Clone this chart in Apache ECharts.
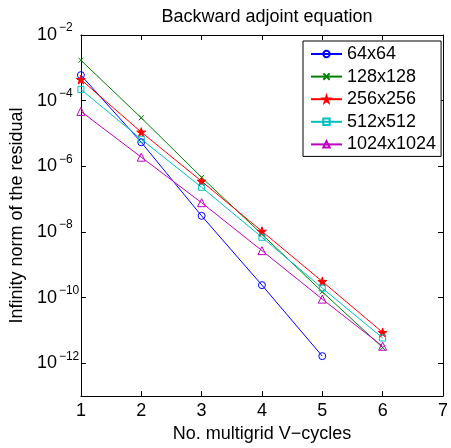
<!DOCTYPE html>
<html><head><meta charset="utf-8">
<script src="https://cdn.jsdelivr.net/npm/echarts@6/dist/echarts.min.js"></script>
<style>html,body{margin:0;padding:0;background:#fff}#c{width:451px;height:448px}</style>
</head><body><div id="c"></div>
<script>
const cycles = [1, 2, 3, 4, 5, 6];
const s64 = [6.0e-4, 5.4e-6, 3.1e-8, 2.4e-10, 1.65e-12, null];
const s128 = [1.7e-3, 3.0e-5, 4.6e-7, 8.5e-9, 1.5e-10, 3.0e-12];
const s256 = [4.4e-4, 1.1e-5, 3.5e-7, 1.05e-8, 3.1e-10, 8.7e-12];
const s512 = [2.2e-4, 6.7e-6, 2.3e-7, 6.9e-9, 1.95e-10, 5.9e-12];
const s1024 = [4.7e-5, 1.9e-6, 7.8e-8, 2.7e-9, 9.0e-11, 3.3e-12];
const seriesNames = ['64x64', '128x128', '256x256', '512x512', '1024x1024'];
const xTicks = [1, 2, 3, 4, 5, 6, 7];
const yTickExps = [-12, -10, -8, -6, -4, -2];

const FONT = '"Liberation Sans", Arial, Helvetica, sans-serif';
const colors = ['#0000ff', '#008000', '#ff0000', '#00bfbf', '#bf00bf'];
const symbols = ['circle', 'path://M0,0L10,10M10,0L0,10',
  'path://M50,0L61,35L98,35L68,57L79,91L50,70L21,91L32,57L2,35L39,35Z',
  'rect', 'triangle'];
const symSizes = [7, 5, 9, 6, 8];
const allData = [s64, s128, s256, s512, s1024];

const series = allData.map((arr, i) => ({
  name: seriesNames[i],
  type: 'line',
  data: cycles.map((x, j) => arr[j] == null ? null : [x, Math.log10(arr[j])]),
  symbol: symbols[i],
  symbolSize: symSizes[i],
  showAllSymbol: true,
  lineStyle: { color: colors[i], width: 1 },
  itemStyle: { color: i === 2 ? colors[i] : 'rgba(255,255,255,0)', borderColor: colors[i], borderWidth: 1 },
  emphasis: { disabled: true },
  animation: false,
  z: 2
}));

const chart = echarts.init(document.getElementById('c'));
chart.setOption({
  animation: false,
  title: {
    text: 'Backward adjoint equation',
    left: 262, top: 3, textAlign: 'center',
    textStyle: { fontFamily: FONT, fontSize: 18, fontWeight: 'normal', color: '#000' }
  },
  grid: { left: 77, top: 35, right: 5, bottom: 44, containLabel: false },
  legend: {
    orient: 'vertical', left: 303, top: 41,
    padding: [4, 5, 3, 7],
    itemWidth: 31, itemHeight: 8, itemGap: 4.6,
    borderColor: '#000', borderWidth: 1, backgroundColor: '#fff',
    textStyle: { fontFamily: FONT, fontSize: 18, color: '#000' },
    data: seriesNames,
    z: 10
  },
  xAxis: [{
    type: 'value', min: xTicks[0], max: xTicks[xTicks.length - 1], interval: 1,
    name: 'No. multigrid V\u2212cycles', nameLocation: 'middle', nameGap: 24,
    nameTextStyle: { fontFamily: FONT, fontSize: 18, color: '#000' },
    axisLine: { lineStyle: { color: '#000', width: 1 } },
    axisTick: { inside: true, length: 5, lineStyle: { color: '#000' } },
    axisLabel: { fontFamily: FONT, fontSize: 18, color: '#000', margin: 6 },
    splitLine: { show: false }
  }, {
    type: 'value', position: 'top', min: xTicks[0], max: xTicks[xTicks.length - 1], interval: 1,
    axisLine: { lineStyle: { color: '#000', width: 1 } },
    axisTick: { inside: true, length: 5, lineStyle: { color: '#000' } },
    axisLabel: { show: false }, splitLine: { show: false }
  }],
  yAxis: [{
    type: 'value', min: -13, max: -2,
    name: 'Infinity norm of the residual', nameLocation: 'middle', nameGap: 50,
    nameTextStyle: { fontFamily: FONT, fontSize: 18, color: '#000' },
    axisLine: { lineStyle: { color: '#000', width: 1 } },
    axisTick: { inside: true, length: 5, customValues: yTickExps, lineStyle: { color: '#000' } },
    axisLabel: {
      customValues: yTickExps, align: 'left', margin: 44,
      formatter: v => '{b|10}{s|' + String(v).replace('-', '\u2212') + '}',
      rich: {
        b: { fontFamily: FONT, fontSize: 18, lineHeight: 26, verticalAlign: 'middle', color: '#000' },
        s: { fontFamily: FONT, fontSize: 12, lineHeight: 12, verticalAlign: 'top', color: '#000', padding: [0, 0, 0, 2] }
      }
    },
    splitLine: { show: false }
  }, {
    type: 'value', position: 'right', min: -13, max: -2,
    axisLine: { lineStyle: { color: '#000', width: 1 } },
    axisTick: { inside: true, length: 5, customValues: yTickExps, lineStyle: { color: '#000' } },
    axisLabel: { show: false }, splitLine: { show: false }
  }],
  series: series
});
</script></body></html>
